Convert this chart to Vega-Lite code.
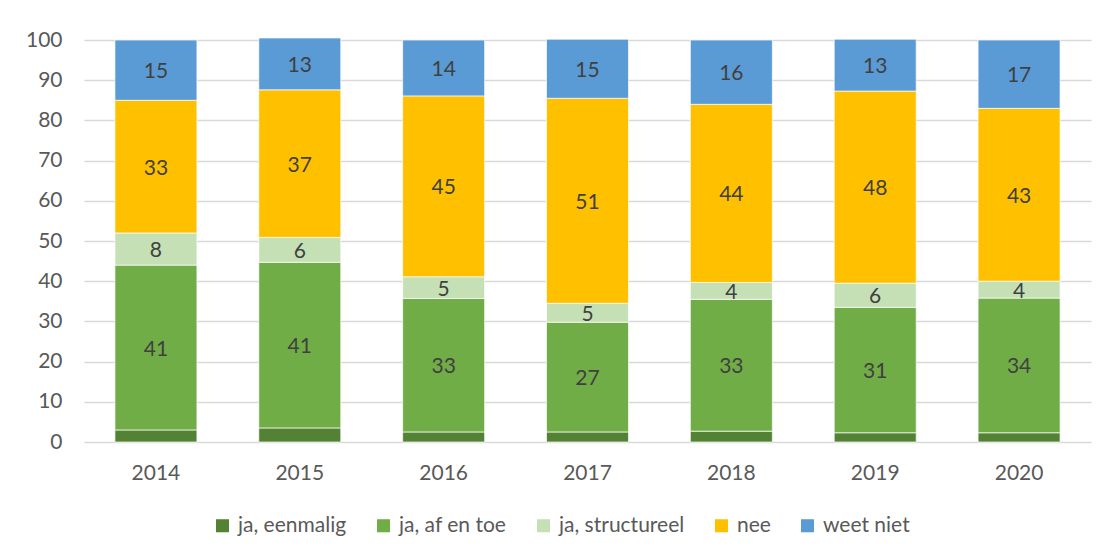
{
  "$schema": "https://vega.github.io/schema/vega-lite/v6.json",
  "width": 1007,
  "height": 402,
  "autosize": "none",
  "padding": {"left": 84, "top": 40, "right": 18, "bottom": 118},
  "background": "white",
  "config": {
    "font": "Lato",
    "view": {"stroke": null}
  },
  "data": {
    "values": [
      {"jaar": "2014", "cat": "ja, eenmalig", "i": 1, "v": 3.0},
      {"jaar": "2014", "cat": "ja, af en toe", "i": 2, "v": 41.0},
      {"jaar": "2014", "cat": "ja, structureel", "i": 3, "v": 8.0},
      {"jaar": "2014", "cat": "nee", "i": 4, "v": 33.0},
      {"jaar": "2014", "cat": "weet niet", "i": 5, "v": 15.0},
      {"jaar": "2015", "cat": "ja, eenmalig", "i": 1, "v": 3.5},
      {"jaar": "2015", "cat": "ja, af en toe", "i": 2, "v": 41.2},
      {"jaar": "2015", "cat": "ja, structureel", "i": 3, "v": 6.2},
      {"jaar": "2015", "cat": "nee", "i": 4, "v": 36.7},
      {"jaar": "2015", "cat": "weet niet", "i": 5, "v": 12.9},
      {"jaar": "2016", "cat": "ja, eenmalig", "i": 1, "v": 2.5},
      {"jaar": "2016", "cat": "ja, af en toe", "i": 2, "v": 33.2},
      {"jaar": "2016", "cat": "ja, structureel", "i": 3, "v": 5.4},
      {"jaar": "2016", "cat": "nee", "i": 4, "v": 45.0},
      {"jaar": "2016", "cat": "weet niet", "i": 5, "v": 13.9},
      {"jaar": "2017", "cat": "ja, eenmalig", "i": 1, "v": 2.5},
      {"jaar": "2017", "cat": "ja, af en toe", "i": 2, "v": 27.3},
      {"jaar": "2017", "cat": "ja, structureel", "i": 3, "v": 4.7},
      {"jaar": "2017", "cat": "nee", "i": 4, "v": 51.0},
      {"jaar": "2017", "cat": "weet niet", "i": 5, "v": 14.7},
      {"jaar": "2018", "cat": "ja, eenmalig", "i": 1, "v": 2.7},
      {"jaar": "2018", "cat": "ja, af en toe", "i": 2, "v": 32.8},
      {"jaar": "2018", "cat": "ja, structureel", "i": 3, "v": 4.2},
      {"jaar": "2018", "cat": "nee", "i": 4, "v": 44.3},
      {"jaar": "2018", "cat": "weet niet", "i": 5, "v": 16.0},
      {"jaar": "2019", "cat": "ja, eenmalig", "i": 1, "v": 2.3},
      {"jaar": "2019", "cat": "ja, af en toe", "i": 2, "v": 31.2},
      {"jaar": "2019", "cat": "ja, structureel", "i": 3, "v": 6.0},
      {"jaar": "2019", "cat": "nee", "i": 4, "v": 47.8},
      {"jaar": "2019", "cat": "weet niet", "i": 5, "v": 12.9},
      {"jaar": "2020", "cat": "ja, eenmalig", "i": 1, "v": 2.3},
      {"jaar": "2020", "cat": "ja, af en toe", "i": 2, "v": 33.5},
      {"jaar": "2020", "cat": "ja, structureel", "i": 3, "v": 4.2},
      {"jaar": "2020", "cat": "nee", "i": 4, "v": 43.0},
      {"jaar": "2020", "cat": "weet niet", "i": 5, "v": 17.0}
    ]
  },
  "encoding": {
    "x": {
      "field": "jaar", "type": "nominal",
      "scale": {"paddingInner": 0.43, "paddingOuter": 0.215},
      "axis": {"title": null, "labelAngle": 0, "domain": false, "ticks": false, "labelFontSize": 21, "labelColor": "#595959", "labelPadding": 20}
    },
    "y": {
      "field": "v", "type": "quantitative", "stack": "zero",
      "scale": {"domain": [0, 100], "nice": false},
      "axis": {"title": null, "values": [0,10,20,30,40,50,60,70,80,90,100], "domain": false, "ticks": false, "labelFontSize": 21, "labelColor": "#595959", "labelPadding": 22, "gridColor": "#D9D9D9", "gridWidth": 1.5}
    },
    "order": {"field": "i", "type": "quantitative"}
  },
  "layer": [
    {
      "mark": {"type": "bar", "stroke": "white", "strokeWidth": 0.7},
      "encoding": {
        "color": {
          "field": "cat", "type": "nominal",
          "scale": {
            "domain": ["ja, eenmalig", "ja, af en toe", "ja, structureel", "nee", "weet niet"],
            "range": ["#548235", "#70AD47", "#C5E0B4", "#FFC000", "#5B9BD5"]
          },
          "legend": {
            "title": null, "orient": "none", "direction": "horizontal",
            "legendX": 128, "legendY": 475,
            "symbolType": "square", "symbolSize": 170, "symbolStrokeWidth": 0,
            "labelFontSize": 21, "labelColor": "#595959", "columnPadding": 26, "labelOffset": 5
          }
        }
      }
    },
    {
      "mark": {"type": "text", "fontSize": 21, "color": "#404040", "baseline": "middle", "dy": 2},
      "encoding": {
        "y": {"field": "v", "type": "quantitative", "stack": "zero", "bandPosition": 0.5},
        "text": {
          "condition": {"test": "datum.i == 1", "value": ""},
          "field": "v", "type": "quantitative", "format": ".0f"
        }
      }
    }
  ]
}
